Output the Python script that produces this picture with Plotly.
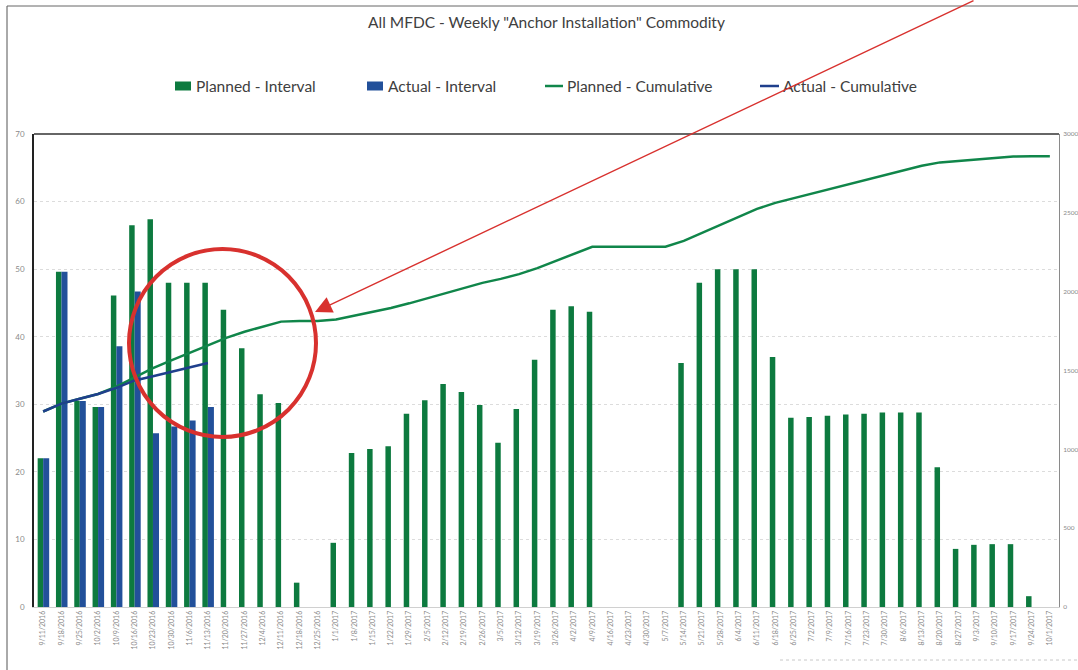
import plotly.graph_objects as go

# Weekly categories (week-ending dates)
weeks = [
    "9/11/2016", "9/18/2016", "9/25/2016", "10/2/2016", "10/9/2016", "10/16/2016",
    "10/23/2016", "10/30/2016", "11/6/2016", "11/13/2016", "11/20/2016", "11/27/2016",
    "12/4/2016", "12/11/2016", "12/18/2016", "12/25/2016", "1/1/2017", "1/8/2017",
    "1/15/2017", "1/22/2017", "1/29/2017", "2/5/2017", "2/12/2017", "2/19/2017",
    "2/26/2017", "3/5/2017", "3/12/2017", "3/19/2017", "3/26/2017", "4/2/2017",
    "4/9/2017", "4/16/2017", "4/23/2017", "4/30/2017", "5/7/2017", "5/14/2017",
    "5/21/2017", "5/28/2017", "6/4/2017", "6/11/2017", "6/18/2017", "6/25/2017",
    "7/2/2017", "7/9/2017", "7/16/2017", "7/23/2017", "7/30/2017", "8/6/2017",
    "8/13/2017", "8/20/2017", "8/27/2017", "9/3/2017", "9/10/2017", "9/17/2017",
    "9/24/2017", "10/1/2017",
]

planned_interval = [
    22, 49.6, 30.5, 29.6, 46.1, 56.5, 57.4, 48.0, 48.0, 48.0, 44.0, 38.3,
    31.5, 30.2, 3.6, 0, 9.5, 22.8, 23.4, 23.8, 28.6, 30.6, 33.0, 31.8,
    29.9, 24.3, 29.3, 36.6, 44.0, 44.5, 43.7, 0, 0, 0, 0, 36.1,
    48.0, 50.0, 50.0, 50.0, 37.0, 28.0, 28.1, 28.3, 28.5, 28.6, 28.8, 28.8,
    28.8, 20.7, 8.6, 9.2, 9.3, 9.3, 1.6, 0,
]

actual_interval = [22, 49.6, 30.5, 29.6, 38.6, 46.7, 25.7, 26.7, 27.6, 29.6]

planned_cumulative = [
    1240, 1290, 1321, 1351, 1398, 1456, 1515, 1564, 1613, 1662, 1707, 1746,
    1779, 1810, 1814, 1814, 1824, 1848, 1872, 1897, 1926, 1958, 1992, 2025,
    2056, 2081, 2111, 2149, 2194, 2240, 2285, 2285, 2285, 2285, 2285, 2322,
    2372, 2423, 2474, 2525, 2563, 2592, 2621, 2650, 2679, 2709, 2739, 2769,
    2799, 2820, 2829, 2838, 2848, 2857, 2859, 2859,
]

actual_cumulative = [1240, 1290, 1321, 1351, 1390, 1437, 1463, 1490, 1518, 1548]

GREEN = "#0d7a3f"
GREEN_LINE = "#10864a"
BLUE = "#22509a"
BLUE_LINE = "#1f3f8c"
RED = "#d8312e"
TEXT = "#404040"
TICK = "#8a8a8a"
FONT = "Lato"

# Plot-area geometry in pixels
W_FIG, H_FIG = 1078, 670
L, R, T, B = 34, 19, 134, 63
PW = W_FIG - L - R
PH = H_FIG - T - B


def px(xpix):
    return (xpix - L) / PW


def py(ypix):
    return (H_FIG - B - ypix) / PH


fig = go.Figure()

fig.add_trace(go.Bar(
    x=weeks, y=planned_interval, name="Planned - Interval",
    marker=dict(color=GREEN, line=dict(width=0)),
    width=0.30, offset=-0.30, showlegend=False,
))
fig.add_trace(go.Bar(
    x=weeks[:len(actual_interval)], y=actual_interval, name="Actual - Interval",
    marker=dict(color=BLUE, line=dict(width=0)),
    width=0.33, offset=0.0, showlegend=False,
))
fig.add_trace(go.Scatter(
    x=weeks, y=planned_cumulative, name="Planned - Cumulative", yaxis="y2",
    mode="lines", line=dict(color=GREEN_LINE, width=2.5), showlegend=False,
))
fig.add_trace(go.Scatter(
    x=weeks[:len(actual_cumulative)], y=actual_cumulative, name="Actual - Cumulative",
    yaxis="y2", mode="lines", line=dict(color=BLUE_LINE, width=2.5), showlegend=False,
))

shapes = []
annotations = []

# frame line along the top of the plot area
shapes.append(dict(type="line", xref="paper", yref="paper", x0=0, x1=1, y0=1, y1=1,
                   line=dict(color="#333333", width=1.6)))

# page border
shapes.append(dict(type="line", xref="paper", yref="paper",
                   x0=px(7), x1=px(7), y0=py(6), y1=py(672), line=dict(color="#555555", width=1)))
shapes.append(dict(type="line", xref="paper", yref="paper",
                   x0=px(7), x1=px(1080), y0=py(6), y1=py(6), line=dict(color="#666666", width=1)))
shapes.append(dict(type="line", xref="paper", yref="paper",
                   x0=px(780), x1=px(1080), y0=py(660), y1=py(660),
                   line=dict(color="#c8c8c8", width=1, dash="dot")))

# legend
legend_items = [
    ("rect", GREEN, 175, 191, 194, "Planned - Interval"),
    ("rect", BLUE, 367, 383, 386, "Actual - Interval"),
    ("line", GREEN_LINE, 545, 563, 565, "Planned - Cumulative"),
    ("line", BLUE_LINE, 760, 779, 781, "Actual - Cumulative"),
]
LEG_Y = 86
for kind, color, a, b, tx, label in legend_items:
    if kind == "rect":
        shapes.append(dict(type="rect", xref="paper", yref="paper",
                           x0=px(a), x1=px(b), y0=py(LEG_Y + 4.5), y1=py(LEG_Y - 4.5),
                           fillcolor=color, line=dict(width=0)))
    else:
        shapes.append(dict(type="line", xref="paper", yref="paper",
                           x0=px(a), x1=px(b), y0=py(LEG_Y), y1=py(LEG_Y),
                           line=dict(color=color, width=2.5)))
    annotations.append(dict(xref="paper", yref="paper", x=px(tx), y=py(LEG_Y),
                            xanchor="left", yanchor="middle", showarrow=False,
                            text=label, font=dict(family=FONT, size=15.5, color=TEXT)))

# hand-drawn markup: circle and pointer arrow
shapes.append(dict(type="circle", xref="paper", yref="paper",
                   x0=px(129), x1=px(316), y0=py(437), y1=py(249),
                   line=dict(color=RED, width=4)))
annotations.append(dict(xref="paper", yref="paper", x=px(315), y=py(312),
                        ax=660, ay=-320, text="", showarrow=True,
                        arrowhead=2, arrowsize=2.4, arrowwidth=1.4, arrowcolor=RED,
                        standoff=0))

fig.update_layout(
    width=W_FIG, height=H_FIG,
    margin=dict(l=L, r=R, t=T, b=B, autoexpand=False),
    paper_bgcolor="white", plot_bgcolor="white",
    barmode="overlay",
    showlegend=False,
    title=dict(text='All MFDC - Weekly "Anchor Installation" Commodity',
               x=0.5, xref="paper", xanchor="center",
               y=1 - 23 / H_FIG, yref="container", yanchor="middle",
               font=dict(family=FONT, size=15.5, color=TEXT)),
    font=dict(family=FONT, color=TICK),
    xaxis=dict(
        type="category", range=[-0.5, len(weeks) - 0.5],
        tickangle=-90, tickfont=dict(size=7, color=TICK),
        showgrid=False, showline=True, linecolor="#d0d0d0", linewidth=1,
        ticks="", fixedrange=True,
    ),
    yaxis=dict(
        range=[0, 70], dtick=10, tickfont=dict(size=8, color=TICK),
        showgrid=True, gridcolor="#dcdcdc", griddash="dot", gridwidth=1,
        showline=True, linecolor="#222222", linewidth=1.6,
        zeroline=False, ticks="", ticklabelstandoff=6,
    ),
    yaxis2=dict(
        overlaying="y", side="right", range=[0, 3000], dtick=500, tickformat="d",
        tickfont=dict(size=6.5, color=TICK), showgrid=False,
        showline=True, linecolor="#8a8a8a", linewidth=1,
        zeroline=False, ticks="", ticklabelstandoff=2,
    ),
    shapes=shapes,
    annotations=annotations,
)

fig.write_html("out.html")
